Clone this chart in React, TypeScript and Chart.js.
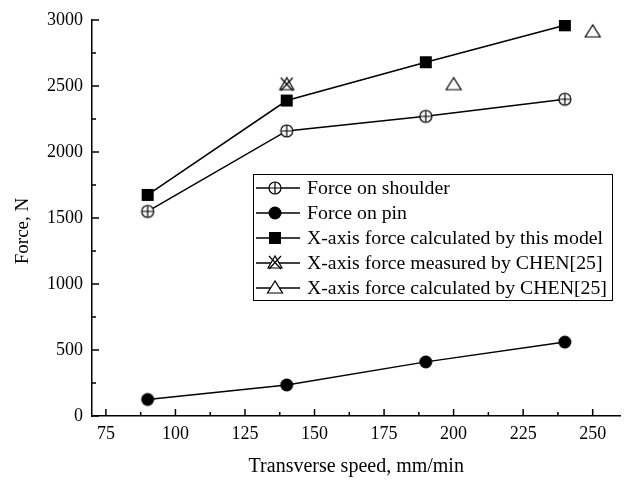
import React, { useEffect, useRef } from 'react';
import { Chart, registerables } from 'chart.js';

Chart.register(...registerables);

const speeds = [90, 140, 190, 240];
const shoulderForce = [1550, 2160, 2270, 2400];
const pinForce = [125, 235, 410, 560];
const modelForce = [1675, 2390, 2680, 2960];
const chenMeasuredSpeed = [140];
const chenMeasuredForce = [2510];
const chenCalcSpeed = [200, 250];
const chenCalcForce = [2510, 2910];
const xTicks = [75, 100, 125, 150, 175, 200, 225, 250];
const yTicks = [0, 500, 1000, 1500, 2000, 2500, 3000];
const legendLabels = [
  'Force on shoulder',
  'Force on pin',
  'X-axis force calculated by this model',
  'X-axis force measured by CHEN[25]',
  'X-axis force calculated by CHEN[25]',
];
const xTitle = 'Transverse speed, mm/min';
const yTitle = 'Force, N';

const FONT = "'Liberation Serif', 'Times New Roman', serif";

type Kind = 'shoulder' | 'pin' | 'model' | 'measured' | 'calc';

function makeMarker(kind: Kind): HTMLCanvasElement {
  const c = document.createElement('canvas');
  c.width = 18;
  c.height = 18;
  const ctx = c.getContext('2d')!;
  ctx.strokeStyle = '#000';
  ctx.fillStyle = '#000';
  ctx.lineWidth = 1.2;
  const cx = 9, cy = 9;
  if (kind === 'shoulder') {
    ctx.beginPath();
    ctx.arc(cx, cy, 6, 0, Math.PI * 2);
    ctx.fillStyle = '#fff';
    ctx.fill();
    ctx.stroke();
    ctx.beginPath();
    ctx.moveTo(cx - 6, cy); ctx.lineTo(cx + 6, cy);
    ctx.moveTo(cx, cy - 6); ctx.lineTo(cx, cy + 6);
    ctx.stroke();
  } else if (kind === 'pin') {
    ctx.beginPath();
    ctx.arc(cx, cy, 6.5, 0, Math.PI * 2);
    ctx.fill();
  } else if (kind === 'model') {
    ctx.fillRect(cx - 6, cy - 6, 12, 12);
  } else if (kind === 'measured') {
    ctx.beginPath();
    ctx.moveTo(cx, cy - 7);
    ctx.lineTo(cx - 7, cy + 5);
    ctx.lineTo(cx + 7, cy + 5);
    ctx.closePath();
    ctx.fillStyle = '#fff';
    ctx.fill();
    ctx.stroke();
    ctx.beginPath();
    ctx.moveTo(cx - 6, cy - 7); ctx.lineTo(cx + 6, cy + 6);
    ctx.moveTo(cx + 6, cy - 7); ctx.lineTo(cx - 6, cy + 6);
    ctx.stroke();
  } else {
    ctx.beginPath();
    ctx.moveTo(cx, cy - 7);
    ctx.lineTo(cx - 7.5, cy + 5);
    ctx.lineTo(cx + 7.5, cy + 5);
    ctx.closePath();
    ctx.fillStyle = '#fff';
    ctx.fill();
    ctx.stroke();
  }
  return c;
}

export default function App() {
  const ref = useRef<HTMLCanvasElement | null>(null);

  useEffect(() => {
    document.body.style.margin = '0';
    const kinds: Kind[] = ['shoulder', 'pin', 'model', 'measured', 'calc'];
    const markers = kinds.map(makeMarker);

    const pts = (xs: number[], ys: number[]) => xs.map((x, i) => ({ x, y: ys[i] }));

    const decorPlugin = {
      id: 'customDecor',
      afterDraw(chart: any) {
        const ctx = chart.ctx;
        const xs = chart.scales.x;
        const ys = chart.scales.y;
        const { left, bottom } = chart.chartArea;
        ctx.save();
        ctx.strokeStyle = '#000';
        ctx.lineWidth = 1.5;
        ctx.beginPath();
        xTicks.forEach((v) => {
          const px = xs.getPixelForValue(v);
          ctx.moveTo(px, bottom); ctx.lineTo(px, bottom - 7);
        });
        xTicks.forEach((v) => {
          const m = v + 12.5;
          if (m < xs.max) {
            const px = xs.getPixelForValue(m);
            ctx.moveTo(px, bottom); ctx.lineTo(px, bottom - 4);
          }
        });
        yTicks.forEach((v) => {
          const py = ys.getPixelForValue(v);
          ctx.moveTo(left, py); ctx.lineTo(left + 7, py);
          const m = v + 250;
          if (m < ys.max) {
            const pm = ys.getPixelForValue(m);
            ctx.moveTo(left, pm); ctx.lineTo(left + 4, pm);
          }
        });
        ctx.stroke();

        // y axis title
        ctx.fillStyle = '#000';
        ctx.font = `19px ${FONT}`;
        ctx.textAlign = 'center';
        ctx.textBaseline = 'middle';
        ctx.save();
        ctx.translate(23, 231);
        ctx.rotate(-Math.PI / 2);
        ctx.fillText(yTitle, 0, 0);
        ctx.restore();

        // legend
        const bx = 253.5, by = 174.5, bw = 359, bh = 126;
        ctx.lineWidth = 1;
        ctx.fillStyle = '#fff';
        ctx.fillRect(bx, by, bw, bh);
        ctx.strokeRect(bx, by, bw, bh);
        ctx.font = `19.8px ${FONT}`;
        ctx.textBaseline = 'middle';
        ctx.textAlign = 'left';
        legendLabels.forEach((lab, i) => {
          const y = 188 + i * 25;
          ctx.lineWidth = 1.5;
          ctx.beginPath();
          ctx.moveTo(256, y); ctx.lineTo(300, y);
          ctx.stroke();
          ctx.drawImage(markers[i], 275 - 9, y - 9);
          ctx.fillStyle = '#000';
          ctx.fillText(lab, 307, y + 1);
        });
        ctx.restore();
      },
    };

    const lineDs = (label: string, data: any[], m: HTMLCanvasElement, show: boolean) => ({
      label,
      data,
      borderColor: '#000',
      backgroundColor: '#000',
      borderWidth: 1.5,
      pointStyle: m,
      pointRadius: 7,
      showLine: show,
      tension: 0,
    });

    const chart = new Chart(ref.current!, {
      type: 'line',
      data: {
        datasets: [
          lineDs(legendLabels[0], pts(speeds, shoulderForce), markers[0], true),
          lineDs(legendLabels[1], pts(speeds, pinForce), markers[1], true),
          lineDs(legendLabels[2], pts(speeds, modelForce), markers[2], true),
          lineDs(legendLabels[3], pts(chenMeasuredSpeed, chenMeasuredForce), markers[3], false),
          lineDs(legendLabels[4], pts(chenCalcSpeed, chenCalcForce), markers[4], false),
        ] as any,
      },
      options: {
        animation: false,
        responsive: false,
        layout: { padding: { top: 20, right: 1, left: 0, bottom: 0 } },
        plugins: { legend: { display: false }, tooltip: { enabled: false } },
        scales: {
          x: {
            type: 'linear',
            min: 70,
            max: 260,
            afterBuildTicks: (s: any) => { s.ticks = xTicks.map((v) => ({ value: v })); },
            afterFit: (s: any) => { s.height = 64; s.paddingLeft = 0; s.paddingRight = 0; },
            grid: { display: false, drawTicks: false },
            border: { display: true, color: '#000', width: 1.5 },
            ticks: { color: '#000', font: { family: FONT, size: 18 }, padding: 7, maxRotation: 0, callback: (v: any) => String(v) },
            title: {
              display: true,
              text: xTitle,
              color: '#000',
              font: { family: FONT, size: 20 },
              padding: { top: 0, bottom: 1 },
            },
          },
          y: {
            type: 'linear',
            min: 0,
            max: 3000,
            afterBuildTicks: (s: any) => { s.ticks = yTicks.map((v) => ({ value: v })); },
            afterFit: (s: any) => { s.width = 92; },
            grid: { display: false, drawTicks: false },
            border: { display: true, color: '#000', width: 1.5 },
            ticks: { color: '#000', font: { family: FONT, size: 18 }, padding: 9, callback: (v: any) => String(v) },
          },
        },
      },
      plugins: [decorPlugin],
    });
    return () => chart.destroy();
  }, []);

  return <canvas ref={ref} width={629} height={480} style={{ display: 'block' }} />;
}
